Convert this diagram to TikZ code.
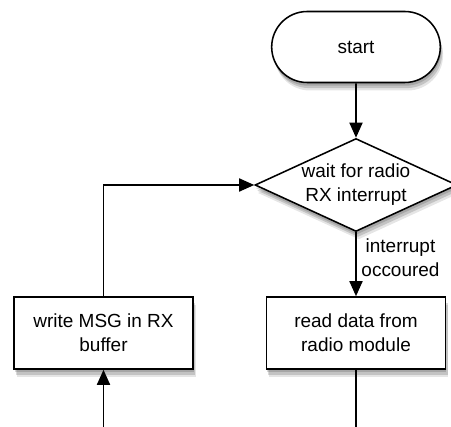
\documentclass[tikz,border=0pt]{standalone}
\usepackage{fontspec}
\setmainfont{Liberation Sans}
\usetikzlibrary{shapes.geometric,shapes.misc,shadows,arrows.meta}

\begin{document}
\begin{tikzpicture}[>={Triangle[length=0.38cm,width=0.33cm]},line width=1.1pt,
	shade/.style={drop shadow={shadow xshift=0.02cm,shadow yshift=-0.08cm,fill=black,opacity=0.15},
		drop shadow={shadow xshift=0.05cm,shadow yshift=-0.14cm,fill=black,opacity=0.15},
		drop shadow={shadow xshift=0.07cm,shadow yshift=-0.2cm,fill=black,opacity=0.1}},
	block/.style={draw,rectangle,fill=white,shade,minimum height=1.8cm,minimum width=4.475cm,
		align=center,font=\fontsize{13.5}{17}\selectfont},
	terminal/.style={draw,rounded rectangle,fill=white,shade,minimum height=1.775cm,minimum width=4.45cm,
		font=\fontsize{13.5}{17}\selectfont},
	decision/.style={draw,diamond,fill=white,shade,aspect=2.17,inner sep=0pt,minimum width=5.05cm,
		minimum height=2.325cm,align=center,font=\fontsize{13.5}{17}\selectfont}]
	\useasboundingbox (0,0) rectangle (11.275,10.675);
	
	% blokkok
	\node[terminal] (start) at (8.9,9.5) {start};
	\node[decision] (wait) at (8.9,6.05) {wait for radio\\RX interrupt};
	\node[block] (read) at (8.9,2.35) {read data from\\radio module};
	\node[block] (write) at (2.5875,2.35) {write MSG in RX\\buffer};
	
	% szabad vegek lent
	\coordinate (readout) at (8.9,0);
	\coordinate (writein) at (2.5875,0);
	
	% nyilak
	\draw [->] (start) -- (wait);
	\draw [->] (wait) -- node[pos=0.4,right,align=center,font=\fontsize{13.5}{17}\selectfont]{interrupt\\occoured} (read);
	\draw (read.south) -- (readout);
	\draw [->] (writein) -- (write);
	\draw [->] (write.north) |- (wait.west);
\end{tikzpicture}
\end{document}
